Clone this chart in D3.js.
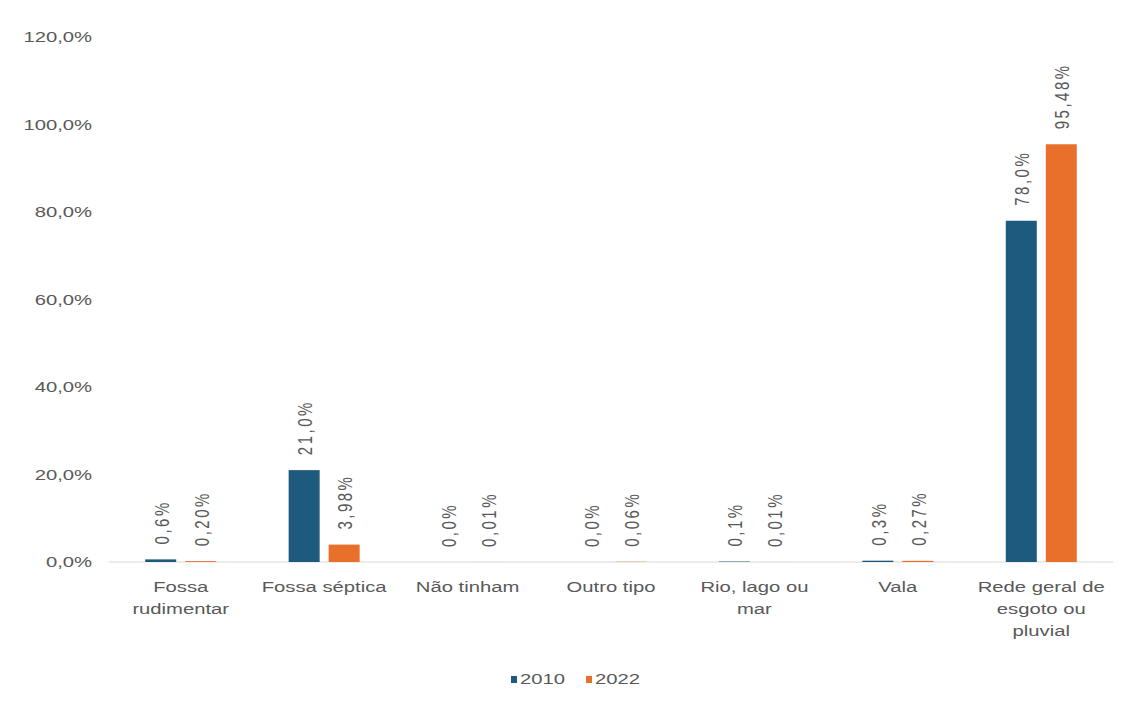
<!DOCTYPE html>
<html>
<head>
<meta charset="utf-8">
<script src="https://cdn.jsdelivr.net/npm/d3@7"></script>
<style>
  body { margin: 0; background: #fff; }
  text { font-family: "Liberation Sans", Arial, sans-serif; fill: #595959; font-size: 15px; }
</style>
</head>
<body>
<div id="chart"></div>
<script>
// data
var categories = [["Fossa", "rudimentar"], ["Fossa séptica"], ["Não tinham"], ["Outro tipo"],
                  ["Rio, lago ou", "mar"], ["Vala"], ["Rede geral de", "esgoto ou", "pluvial"]];
var years = ["2010", "2022"];
var values2010 = [0.6, 21.0, 0.0, 0.0, 0.1, 0.3, 78.0];
var values2022 = [0.20, 3.98, 0.01, 0.06, 0.01, 0.27, 95.48];
var yTicks = [0, 20, 40, 60, 80, 100, 120];
var colors = ["#1d5a7e", "#e8702b"];

var W = 1130, H = 701;
var margin = {top: 37, right: 17, bottom: 139, left: 109};
var width = W - margin.left - margin.right;
var height = H - margin.top - margin.bottom;
var sx = 1.35; // text in the picture is wide, stretch it horizontally

var svg = d3.select("#chart").append("svg")
    .attr("width", W).attr("height", H)
    .append("g")
    .attr("transform", "translate(" + margin.left + "," + margin.top + ")");

var x = d3.scaleBand().domain(d3.range(categories.length)).range([0, width]);
var xs = d3.scaleBand().domain(years)
    .range([x.bandwidth() / 2 - 35.5, x.bandwidth() / 2 + 35.5]).paddingInner(0.225);
var y = d3.scaleLinear().domain([0, 120]).range([height, 0]);

var fmt = function(v, d) { return v.toFixed(d).replace(".", ",") + "%"; };

// y tick labels
svg.append("g").selectAll("text").data(yTicks).enter().append("text")
    .attr("text-anchor", "end")
    .attr("dy", "0.35em")
    .attr("transform", function(d) { return "translate(-17," + y(d) + ") scale(" + sx + ",1)"; })
    .text(function(d) { return d.toFixed(1).replace(".", ",") + "%"; });

// x axis line
svg.append("line")
    .attr("x1", 0).attr("x2", width)
    .attr("y1", y(0)).attr("y2", y(0))
    .attr("stroke", "#d9d9d9").attr("stroke-width", 1);

var series = [values2010, values2022];
var decimals = [1, 2];

series.forEach(function(vals, si) {
  var g = svg.append("g");
  g.selectAll("rect").data(vals).enter().append("rect")
    .attr("x", function(d, i) { return x(i) + xs(years[si]); })
    .attr("y", function(d) { return y(d); })
    .attr("width", xs.bandwidth())
    .attr("height", function(d) { return y(0) - y(d); })
    .attr("fill", colors[si]);

  g.selectAll("text").data(vals).enter().append("text")
    .attr("transform", function(d, i) {
      var cx = x(i) + xs(years[si]) + xs.bandwidth() / 2;
      return "translate(" + (cx + 8) + "," + (y(d) - 15) + ") scale(" + sx + ",1) rotate(-90)";
    })
    .style("letter-spacing", "2.5px")
    .text(function(d) { return fmt(d, decimals[si]); });
});

// category labels
var cat = svg.append("g").selectAll("g").data(categories).enter().append("g")
    .attr("transform", function(d, i) {
      return "translate(" + (x(i) + x.bandwidth() / 2) + "," + (y(0) + 30) + ") scale(" + sx + ",1)";
    });
cat.selectAll("text").data(function(d) { return d; }).enter().append("text")
    .attr("text-anchor", "middle")
    .attr("y", function(d, i) { return i * 22; })
    .text(function(d) { return d; });

// legend
var legend = svg.append("g").selectAll("g").data(years).enter().append("g")
    .attr("transform", function(d, i) {
      return "translate(" + (511 - margin.left + i * 75) + "," + (679 - margin.top) + ")";
    });
legend.append("rect").attr("x", 0).attr("y", -3).attr("width", 6).attr("height", 7)
    .attr("fill", function(d, i) { return colors[i]; });
legend.append("text")
    .attr("transform", "translate(9,0) scale(" + sx + ",1)")
    .attr("dy", "0.35em")
    .text(function(d) { return d; });
</script>
</body>
</html>
